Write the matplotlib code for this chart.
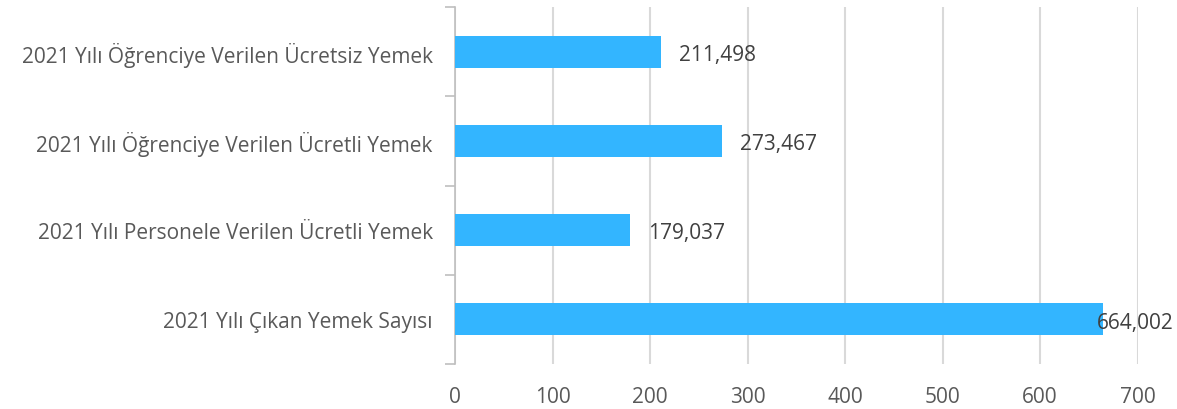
import matplotlib.pyplot as plt

categories = ["2021 Yılı Öğrenciye Verilen Ücretsiz Yemek",
              "2021 Yılı Öğrenciye Verilen Ücretli Yemek",
              "2021 Yılı Personele Verilen Ücretli Yemek",
              "2021 Yılı Çıkan Yemek Sayısı"]
values = [211.498, 273.467, 179.037, 664.002]
labels = ["211,498", "273,467", "179,037", "664,002"]
xticks = [0, 100, 200, 300, 400, 500, 600, 700]

plt.rcParams['font.family'] = ['Open Sans', 'DejaVu Sans']

fig = plt.figure(figsize=(11.77, 4.10), dpi=100)
ax = fig.add_axes([0.3866, 0.11, 0.580, 0.87])

pos = list(range(len(categories)))
ax.barh(pos, values, height=0.36, color='#33b5ff', zorder=3)

# data labels next to bar ends
for i, (v, lab) in enumerate(zip(values, labels)):
    dx = 13 if v < 600 else -4
    ax.annotate(lab, (v, i), xytext=(dx, -2), textcoords='offset points',
                va='center', ha='left', fontsize=15, color='#404040', zorder=4)

ax.set_ylim(3.5, -0.5)
ax.set_xlim(0, 700)
ax.set_xticks(xticks)
ax.set_xticklabels([str(t) for t in xticks], fontsize=15, color='#595959')
ax.set_yticks(pos)
ax.set_yticklabels(categories, fontsize=15, color='#595959')
ax.tick_params(axis='y', length=0, pad=16)
ax.tick_params(axis='x', length=0, pad=16)

# category separator ticks on the left axis
ax.set_yticks([-0.5, 0.5, 1.5, 2.5, 3.5], minor=True)
ax.tick_params(axis='y', which='minor', length=7, color='#bfbfbf', width=1.2)

ax.grid(axis='x', color='#d9d9d9', linewidth=1.5, zorder=0)
for s in ['top', 'right', 'bottom']:
    ax.spines[s].set_visible(False)
ax.spines['left'].set_color('#bfbfbf')
ax.spines['left'].set_linewidth(1.2)

fig.savefig('out.png', dpi=100)
